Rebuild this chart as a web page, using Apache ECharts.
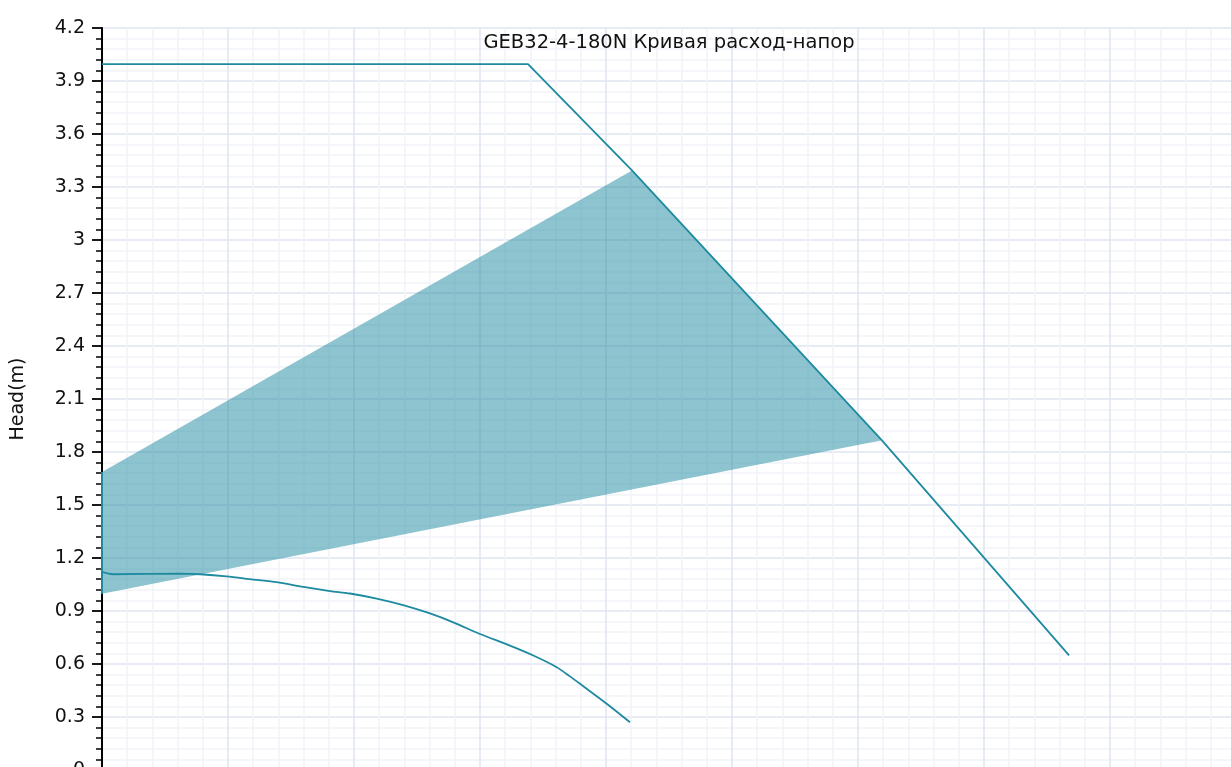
<!DOCTYPE html>
<html>
<head>
<meta charset="utf-8">
<script src="https://cdn.jsdelivr.net/npm/echarts@6/dist/echarts.min.js"></script>
<style>
html,body{margin:0;padding:0;background:#fff;}
#chart{width:1231px;height:767px;}
</style>
</head>
<body>
<div id="chart"></div>
<script>
// ---- data (flow units, head in m) ----
const titleText = 'GEB32-4-180N Кривая расход-напор';
const yAxisName = 'Head(m)';
const maxCurve = [[0, 3.995], [3.381, 3.995], [4.206, 3.394], [6.19, 1.866], [7.675, 0.649]];
const minCurve = [
  [0, 1.121], [0.087, 1.108], [0.619, 1.112], [0.778, 1.108], [0.988, 1.096],
  [1.2, 1.078], [1.387, 1.063], [1.598, 1.036], [1.81, 1.013], [1.968, 0.999],
  [2.18, 0.970], [2.39, 0.933], [2.603, 0.886], [2.788, 0.836], [3.0, 0.770],
  [3.238, 0.704], [3.423, 0.648], [3.609, 0.582], [3.714, 0.530], [3.82, 0.474],
  [4.006, 0.375], [4.19, 0.270]
];
const regionPolygon = [[0, 1.687], [4.206, 3.394], [6.19, 1.866], [0, 0.998]];
const regionLeftEdge = [[0, 1.687], [0, 0.998]];

const lineColor = '#1d8aa0';
const font = 'DejaVu Sans';

const chart = echarts.init(document.getElementById('chart'));
chart.setOption({
  animation: false,
  backgroundColor: '#fff',
  title: {
    text: titleText,
    left: 669,
    top: 33,
    padding: 0,
    textAlign: 'center',
    textStyle: {fontFamily: font, fontSize: 19.5, fontWeight: 'normal', color: '#111'}
  },
  grid: {left: 102, right: -5, top: 28, bottom: -3, containLabel: false, outerBoundsMode: 'none'},
  xAxis: {
    type: 'value', min: 0, max: 9, interval: 1,
    axisLine: {show: true, lineStyle: {color: '#000', width: 2}},
    axisTick: {show: true, length: 10, lineStyle: {color: '#000', width: 1.5}},
    minorTick: {show: true, splitNumber: 5, length: 6, lineStyle: {color: '#000', width: 1.5}},
    axisLabel: {fontFamily: font, fontSize: 19, color: '#111'},
    splitLine: {show: true, lineStyle: {color: '#dfe4ef', width: 1.5}},
    minorSplitLine: {show: true, lineStyle: {color: '#f1f3f9', width: 1.5}}
  },
  yAxis: {
    type: 'value', min: 0, max: 4.2, interval: 0.3,
    name: yAxisName, nameLocation: 'middle', nameGap: 74,
    nameTextStyle: {fontFamily: font, fontSize: 19, color: '#111'},
    axisLine: {show: true, lineStyle: {color: '#000', width: 2}},
    axisTick: {show: true, length: 10, lineStyle: {color: '#000', width: 1.8}},
    minorTick: {show: true, splitNumber: 5, length: 6, lineStyle: {color: '#000', width: 1.5}},
    axisLabel: {fontFamily: font, fontSize: 19, color: '#111', margin: 17},
    splitLine: {show: true, lineStyle: {color: '#dfe4ef', width: 1.5}},
    minorSplitLine: {show: true, lineStyle: {color: '#f1f3f9', width: 1.5}}
  },
  series: [
    {
      type: 'custom',
      z: 1,
      renderItem: function (params, api) {
        if (params.dataIndex !== 0) return null;
        const pts = regionPolygon.map(p => api.coord(p));
        return {
          type: 'polygon',
          shape: {points: pts},
          style: {fill: 'rgba(29,138,160,0.5)', stroke: null}
        };
      },
      data: [regionPolygon[0]]
    },
    {
      type: 'line', data: regionLeftEdge, showSymbol: false, symbol: 'none', z: 3,
      lineStyle: {color: lineColor, width: 2}
    },
    {
      type: 'line', data: maxCurve, showSymbol: false, symbol: 'none', z: 3,
      lineStyle: {color: lineColor, width: 1.8}
    },
    {
      type: 'line', data: minCurve, showSymbol: false, symbol: 'none', z: 3, smooth: 0.3,
      lineStyle: {color: lineColor, width: 1.8}
    }
  ]
});
</script>
</body>
</html>
